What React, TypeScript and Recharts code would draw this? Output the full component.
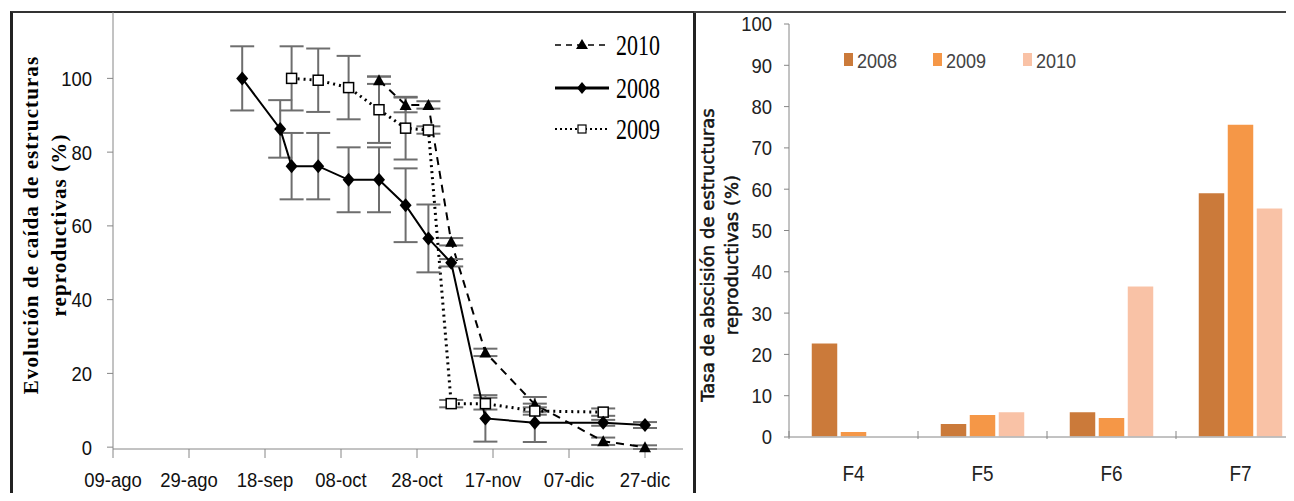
import React from 'react'
import {
  ComposedChart, Line, XAxis, YAxis, ErrorBar, BarChart, Bar,
} from 'recharts'

// left panel: days counted from 09-ago
const X_TICKS = [0, 20, 40, 60, 80, 100, 120, 140]
const X_TICK_LABELS = ['09-ago', '29-ago', '18-sep', '08-oct', '28-oct', '17-nov', '07-dic', '27-dic']
const Y_TICKS_LEFT = [0, 20, 40, 60, 80, 100]

const DAYS_2008 = [34, 44, 47, 54, 62, 70, 77, 83, 89, 98, 111, 129, 140]
const FALL_2008 = [100, 86.3, 76.2, 76.2, 72.5, 72.5, 65.6, 56.6, 50, 7.8, 6.6, 6.6, 6]
const ERR_2008 = [8.7, 7.8, 9, 9, 8.8, 8.8, 10, 9.2, 1, 6.3, 5.2, 0.8, 0.8]

const DAYS_2009 = [47, 54, 62, 70, 77, 83, 89, 98, 111, 129]
const FALL_2009 = [100, 99.5, 97.5, 91.5, 86.5, 86, 11.8, 11.8, 9.8, 9.5]
const ERR_2009 = [8.7, 8.6, 8.6, 9, 8.5, 1, 1, 1.6, 1, 1]

const DAYS_2010 = [70, 77, 83, 89, 98, 111, 129, 140]
const FALL_2010 = [99.5, 92.8, 92.8, 55.7, 25.7, 11.6, 1.6, 0]
const ERR_2010 = [1, 2, 1, 1, 1, 2, 1, 0.5]

// right panel
const PHASES = ['F4', 'F5', 'F6', 'F7']
const RATE_2008 = [22.8, 3.3, 6.2, 59.2]
const RATE_2009 = [1.4, 5.5, 4.8, 75.8]
const RATE_2010 = [0, 6.2, 36.6, 55.5]
const Y_TICKS_RIGHT = [0, 10, 20, 30, 40, 50, 60, 70, 80, 90, 100]

const C2008 = '#cb7a3a'
const C2009 = '#f59747'
const C2010 = '#f9c2a6'

const SANS = '"Liberation Sans", Arial, sans-serif'
const SERIF = '"Liberation Serif", "DejaVu Serif", serif'
const AXIS_GREY = '#868686'

const toSeries = (days: number[], vals: number[], errs: number[]) =>
  days.map((d, i) => ({ day: d, value: vals[i], err: errs[i] }))

const data2008 = toSeries(DAYS_2008, FALL_2008, ERR_2008)
const data2009 = toSeries(DAYS_2009, FALL_2009, ERR_2009)
const data2010 = toSeries(DAYS_2010, FALL_2010, ERR_2010)

const barData = PHASES.map((p, i) => ({
  phase: p, y2008: RATE_2008[i], y2009: RATE_2009[i], y2010: RATE_2010[i],
}))

// condensed tick text (the original uses a narrow Calibri-like face)
const narrowTick = (anchor: 'middle' | 'end', dy: string, fmt?: (v: any) => string, fill = '#111') =>
  (p: any) => {
    const { x, y, payload } = p
    const label = fmt ? fmt(payload.value) : String(payload.value)
    return (
      <g transform={`translate(${x},${y}) scale(0.88,1)`}>
        <text x={0} y={0} dy={dy} textAnchor={anchor} fontFamily={SANS} fontSize={21} fill={fill}>{label}</text>
      </g>
    )
  }

const Diamond = (p: any) => {
  const { cx, cy, index } = p
  if (cx == null || cy == null) return <g key={`dm-${index}`} />
  return <path key={`dm-${index}`} d={`M${cx},${cy - 7}L${cx + 6},${cy}L${cx},${cy + 7}L${cx - 6},${cy}Z`} fill="#000" />
}

const Square = (p: any) => {
  const { cx, cy, index } = p
  if (cx == null || cy == null) return <g key={`sq-${index}`} />
  return <rect key={`sq-${index}`} x={cx - 5} y={cy - 5} width={10} height={10} fill="#fff" stroke="#000" strokeWidth={1.5} />
}

const Triangle = (p: any) => {
  const { cx, cy, index } = p
  if (cx == null || cy == null) return <g key={`tr-${index}`} />
  return <path key={`tr-${index}`} d={`M${cx},${cy - 6}L${cx + 6},${cy + 5}L${cx - 6},${cy + 5}Z`} fill="#000" />
}

const BAND = 129 // width of one phase on the bar chart

const PhaseTick = (p: any) => {
  const { x, y, payload } = p
  return (
    <g>
      <line x1={x - BAND / 2} x2={x - BAND / 2} y1={y - 14} y2={y - 6} stroke={AXIS_GREY} />
      <g transform={`translate(${x},${y + 36}) scale(0.86,1)`}>
        <text x={0} y={0} textAnchor="middle" fontFamily={SANS} fontSize={22} fill="#222">{payload.value}</text>
      </g>
    </g>
  )
}

function LeftLegend() {
  const rows = [
    { label: '2010', dash: '6 5', w: 1.5, mark: 'tri', y: 45 },
    { label: '2008', dash: undefined, w: 3, mark: 'dia', y: 88 },
    { label: '2009', dash: '2 3', w: 2, mark: 'sq', y: 129 },
  ]
  return (
    <g>
      {rows.map(r => (
        <g key={r.label}>
          <line x1={555} x2={609} y1={r.y} y2={r.y} stroke="#000" strokeWidth={r.w} strokeDasharray={r.dash} />
          {r.mark === 'tri' && <path d={`M582,${r.y - 6}L588,${r.y + 4}L576,${r.y + 4}Z`} fill="#000" />}
          {r.mark === 'dia' && <path d={`M582,${r.y - 6}L587,${r.y}L582,${r.y + 6}L577,${r.y}Z`} fill="#000" />}
          {r.mark === 'sq' && <rect x={578} y={r.y - 4} width={8} height={8} fill="#fff" stroke="#000" strokeWidth={1.2} />}
          <text x={616} y={r.y} dominantBaseline="central" fontFamily={SERIF} fontSize={22}
            transform={`translate(616 ${r.y}) scale(1 1.3) translate(-616 ${-r.y})`} fill="#000">{r.label}</text>
        </g>
      ))}
    </g>
  )
}

function RightLegend() {
  const items = [
    { label: '2008', color: C2008, x: 844 },
    { label: '2009', color: C2009, x: 933 },
    { label: '2010', color: C2010, x: 1023 },
  ]
  return (
    <g>
      {items.map(it => (
        <g key={it.label}>
          <rect x={it.x} y={53} width={9} height={13} fill={it.color} />
          <g transform={`translate(${it.x + 13},60) scale(0.86,1)`}>
            <text x={0} y={0} dominantBaseline="central" fontFamily={SANS} fontSize={21} fill="#444">{it.label}</text>
          </g>
        </g>
      ))}
    </g>
  )
}

export default function App() {
  return (
    <div style={{ position: 'relative', width: 1294, height: 501, margin: -8, overflow: 'hidden', background: '#fff' }}>
      {/* frames */}
      <div style={{ position: 'absolute', left: 10, top: 11, width: 680, height: 500, borderLeft: '3px solid #222', borderTop: '2px solid #333', borderRight: '3px solid #222' }} />
      <div style={{ position: 'absolute', left: 694, top: 11, width: 620, height: 0, borderTop: '2px solid #444' }} />

      <div style={{ position: 'absolute', left: 0, top: 0 }}>
        <ComposedChart width={694} height={501} margin={{ top: 12, right: 11, bottom: 12, left: 0 }}>
          <XAxis type="number" dataKey="day" domain={[0, 150]} ticks={X_TICKS} allowDataOverflow
            height={40} tickSize={9} tickMargin={14} stroke={AXIS_GREY}
            tick={narrowTick('middle', '0.71em', (v: number) => X_TICK_LABELS[X_TICKS.indexOf(v)] ?? '')} />
          <YAxis type="number" domain={[0, 118]} ticks={Y_TICKS_LEFT} width={113} tickSize={6} tickMargin={15}
            stroke={AXIS_GREY} tick={narrowTick('end', '0.355em')} />
          <Line data={data2010} dataKey="value" stroke="#000" strokeWidth={2} strokeDasharray="8 6"
            dot={Triangle} isAnimationActive={false}>
            <ErrorBar dataKey="err" direction="y" width={12} stroke="#6e6e6e" strokeWidth={2} />
          </Line>
          <Line data={data2009} dataKey="value" stroke="#000" strokeWidth={3} strokeDasharray="2 4"
            dot={Square} isAnimationActive={false}>
            <ErrorBar dataKey="err" direction="y" width={12} stroke="#6e6e6e" strokeWidth={2} />
          </Line>
          <Line data={data2008} dataKey="value" stroke="#000" strokeWidth={2}
            dot={Diamond} isAnimationActive={false}>
            <ErrorBar dataKey="err" direction="y" width={12} stroke="#6e6e6e" strokeWidth={2} />
          </Line>
        </ComposedChart>
      </div>

      <div style={{ position: 'absolute', left: 694, top: 0 }}>
        <BarChart width={620} height={501} data={barData} margin={{ top: 24, right: 9, bottom: 14, left: 0 }}
          barCategoryGap={22} barGap={2}>
          <XAxis dataKey="phase" height={50} tickLine={false} stroke={AXIS_GREY} tick={PhaseTick} />
          <YAxis type="number" domain={[0, 100]} ticks={Y_TICKS_RIGHT} width={95} tickSize={5} tickMargin={12}
            stroke={AXIS_GREY} tick={narrowTick('end', '0.355em', undefined, '#222')} />
          <Bar dataKey="y2008" fill={C2008} stroke="#fff" strokeWidth={1.5} isAnimationActive={false} />
          <Bar dataKey="y2009" fill={C2009} stroke="#fff" strokeWidth={1.5} isAnimationActive={false} />
          <Bar dataKey="y2010" fill={C2010} stroke="#fff" strokeWidth={1.5} isAnimationActive={false} />
        </BarChart>
      </div>

      <svg width={1294} height={501} style={{ position: 'absolute', left: 0, top: 0, pointerEvents: 'none' }}>
        <LeftLegend />
        <RightLegend />
        <g transform="translate(31 225) rotate(-90)">
          <text textAnchor="middle" dominantBaseline="central" fontFamily={SERIF} fontWeight="bold" fontSize={21} letterSpacing={1.1} fill="#000">
            Evolución de caída de estructuras
          </text>
        </g>
        <g transform="translate(59 225) rotate(-90)">
          <text textAnchor="middle" dominantBaseline="central" fontFamily={SERIF} fontWeight="bold" fontSize={21} letterSpacing={1.1} fill="#000">
            reproductivas (%)
          </text>
        </g>
        <g transform="translate(707 255) rotate(-90)">
          <text textAnchor="middle" dominantBaseline="central" fontFamily='"DejaVu Sans", sans-serif' fontSize={18}
            stroke="#111" strokeWidth={0.5} fill="#111">
            Tasa de abscisión de estructuras
          </text>
        </g>
        <g transform="translate(731 255) rotate(-90)">
          <text textAnchor="middle" dominantBaseline="central" fontFamily='"DejaVu Sans", sans-serif' fontSize={18}
            stroke="#111" strokeWidth={0.5} fill="#111">
            reproductivas (%)
          </text>
        </g>
      </svg>
    </div>
  )
}
